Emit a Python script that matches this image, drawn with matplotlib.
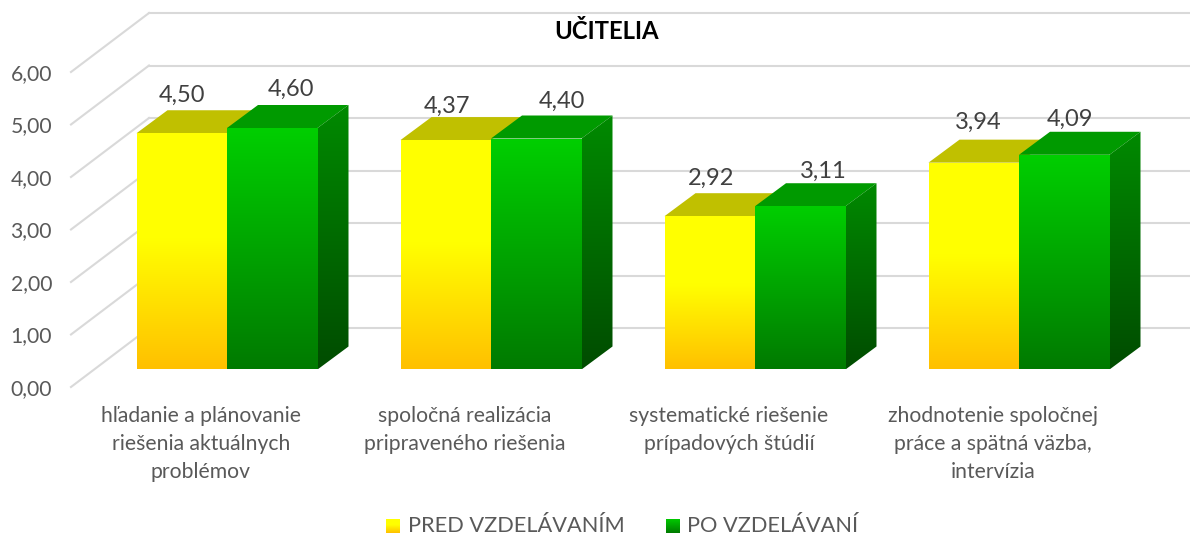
import numpy as np
import matplotlib
matplotlib.use("Agg")
import matplotlib.pyplot as plt
from matplotlib.colors import LinearSegmentedColormap
from matplotlib.patches import Polygon

plt.rcParams['font.family'] = ['Lato', 'Open Sans', 'DejaVu Sans']

categories = ["hľadanie a plánovanie\nriešenia aktuálnych\nproblémov",
              "spoločná realizácia\npripraveného riešenia",
              "systematické riešenie\nprípadových štúdií",
              "zhodnotenie spoločnej\npráce a spätná väzba,\nintervízia"]
pred = [4.50, 4.37, 2.92, 3.94]
po = [4.60, 4.40, 3.11, 4.09]
y_ticks = [0, 1, 2, 3, 4, 5, 6]
series_names = ["PRED VZDELÁVANÍM", "PO VZDELÁVANÍ"]
title = "UČITELIA"

# ruky nastavene posuny popiskov v pixeloch
pred_label_off = [(0, 38), (1, 34), (1, 38), (4, 40)]
po_label_off = [(19, 39), (26, 37), (23, 35), (6, 35)]

W, H = 1190, 536
STEP = 264.0   # px na kategoriu
UNIT = 52.5    # px na jednotku
X0, Y0 = 227.0, 369.5  # kde lezi kategoria 0, hodnota 0
px = 1 / STEP
py = 1 / UNIT
BAR = 90.5 * px

yellow = LinearSegmentedColormap.from_list("y", [(0, "#ffc000"), (0.55, "#ffff00"), (1, "#ffff00")])
green = LinearSegmentedColormap.from_list("g", [(0, "#007a00"), (1, "#00cf00")])
side = LinearSegmentedColormap.from_list("s", [(0, "#004c00"), (1, "#008a00")])

fig = plt.figure(figsize=(W / 100, H / 100), dpi=100)
ax = fig.add_axes([0, 0, 1, 1])
ax.set_xlim(-X0 * px, (W - X0) * px)
ax.set_ylim(-(H - Y0) * py, Y0 * py)
ax.axis('off')


def gradient(poly, cmap, ybot, ytop, z):
    img = ax.imshow(np.linspace(1, 0, 256)[:, None], cmap=cmap, vmin=0, vmax=1, aspect='auto',
                    extent=[poly[:, 0].min(), poly[:, 0].max(), ybot, ytop], zorder=z)
    img.set_clip_path(Polygon(poly, closed=True, transform=ax.transData))


def bar3d(x, v, cmap, top_col, with_side, z):
    dx, dy = 31 * px, 23 * py
    xr = x + BAR
    front = np.array([[x, 0], [xr, 0], [xr, v], [x, v]])
    gradient(front, cmap, 0, v, z + 0.2)
    top = [[x, v], [xr, v], [xr + dx, v + dy], [x + dx, v + dy]]
    ax.add_patch(Polygon(top, closed=True, facecolor=top_col, edgecolor='none', zorder=z))
    if with_side:
        s = np.array([[xr, 0], [xr + dx, dy], [xr + dx, v + dy], [xr, v]])
        gradient(s, side, 0, v + dy, z + 0.1)


# zadna stena a bocne ciary
wall_dx, wall_dy = 78 * px, 59 * py
x_left = (71 - X0) * px
y_shift = -(387 - Y0) * py
x_end = (W - X0) * px
for t in y_ticks:
    y = t + y_shift
    ax.plot([x_left, x_left + wall_dx], [y, y + wall_dy], color='#d9d9d9', lw=1.5, zorder=1)
    ax.plot([x_left + wall_dx, x_end], [y + wall_dy, y + wall_dy], color='#d9d9d9', lw=1.5, zorder=1)
    ax.text((52 - X0) * px, y - 2 * py, f"{t:.2f}".replace('.', ','), ha='right', va='center',
            color='#595959', fontsize=15.2)

for i in range(len(categories)):
    bar3d(i - BAR, pred[i], yellow, '#c0c000', False, 2 + i)
    bar3d(i, po[i], green, '#009a00', True, 2.5 + i)
    ax.text(i - BAR / 2 + pred_label_off[i][0] * px, pred[i] + pred_label_off[i][1] * py,
            f"{pred[i]:.2f}".replace('.', ','), ha='center', va='center', color='#404040',
            fontsize=17, zorder=20)
    ax.text(i + BAR / 2 + po_label_off[i][0] * px, po[i] + po_label_off[i][1] * py,
            f"{po[i]:.2f}".replace('.', ','), ha='center', va='center', color='#404040',
            fontsize=17, zorder=20)
    ax.text(i - 26 * px, (Y0 - 406) * py, categories[i], ha='center', va='top', color='#595959',
            fontsize=15.2, linespacing=1.49)

ax.text((607 - X0) * px, (Y0 - 31) * py, title, ha='center', va='center', fontweight='bold',
        color='black', fontsize=17.2)

# legenda
leg_x = [386, 666]
txt_x = [408, 687]
for name, lx, tx, cm in zip(series_names, leg_x, txt_x, [yellow, green]):
    sq = np.array([[lx, 533 - 14], [lx + 14, 533 - 14], [lx + 14, 533], [lx, 533]], dtype=float)
    sq[:, 0] = (sq[:, 0] - X0) * px
    sq[:, 1] = (Y0 - sq[:, 1]) * py
    gradient(sq, cm, sq[:, 1].min(), sq[:, 1].max(), 5)
    ax.text((tx - X0) * px, (Y0 - 526) * py, name, ha='left', va='center', color='#595959', fontsize=15.7)

ax.set_xlim(-X0 * px, (W - X0) * px)
ax.set_ylim(-(H - Y0) * py, Y0 * py)
fig.savefig("out.png", dpi=100)
